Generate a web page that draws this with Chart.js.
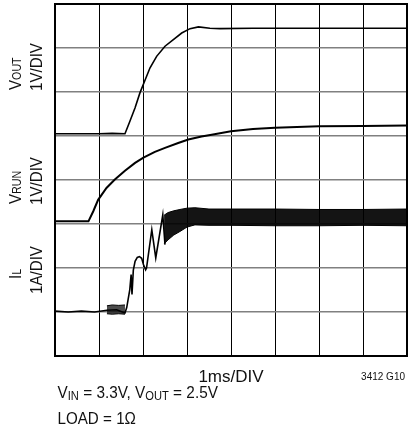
<!DOCTYPE html>
<html>
<head>
<meta charset="utf-8">
<script src="https://cdn.jsdelivr.net/npm/chart.js@4"></script>
<style>
html,body{margin:0;padding:0;background:#fff;}
#wrap{position:relative;width:408px;height:442px;}
</style>
</head>
<body>
<div id="wrap"><canvas id="c" width="408" height="442"></canvas></div>
<script>
// Screen positions in scope divisions (x: 1ms/DIV, y: channel divisions)
const xDivisions = [0, 1, 2, 3, 4, 5, 6, 7, 8];
const yDivisions = [0, 1, 2, 3, 4, 5, 6, 7, 8];

// VOUT trace (1V/DIV)
const voutT = [0, 0.5, 1.0, 1.3, 1.59, 1.70, 1.82, 1.93, 2.05, 2.16, 2.31, 2.50, 2.69, 2.88, 3.07, 3.26, 3.52, 3.75, 4.5, 5.5, 6.5, 7.5, 8];
const voutV = [5.05, 5.05, 5.05, 5.06, 5.05, 5.33, 5.64, 5.98, 6.28, 6.55, 6.81, 7.04, 7.19, 7.34, 7.44, 7.48, 7.45, 7.44, 7.45, 7.45, 7.45, 7.45, 7.45];

// VRUN trace (1V/DIV)
const vrunT = [0, 0.4, 0.76, 0.87, 0.98, 1.17, 1.36, 1.59, 1.82, 2.01, 2.27, 2.50, 2.80, 3.03, 3.33, 3.56, 4.0, 4.5, 5.0, 6.0, 7.0, 8.0];
const vrunV = [3.06, 3.06, 3.06, 3.29, 3.55, 3.82, 4.01, 4.21, 4.39, 4.51, 4.64, 4.73, 4.84, 4.92, 4.99, 5.03, 5.11, 5.16, 5.19, 5.22, 5.23, 5.24];

// IL trace (1A/DIV) - single-valued part
const ilT = [0, 0.3, 0.6, 0.9, 1.18, 1.40, 1.59, 1.63, 1.70, 1.73, 1.75, 1.78, 1.82, 1.87, 1.92, 1.97, 2.01, 2.06, 2.08, 2.20, 2.29, 2.45, 2.50];
const ilV = [1.02, 1.0, 1.02, 1.0, 1.04, 1.05, 0.98, 1.1, 1.51, 1.85, 1.4, 1.95, 2.15, 2.24, 2.26, 2.22, 2.08, 1.96, 2.0, 2.87, 2.23, 3.21, 2.53];

// IL switching-ripple envelope before soft-start
const rippleLowT = [1.18, 1.30, 1.45, 1.59];
const rippleLowHi = [1.14, 1.16, 1.15, 1.16];
const rippleLowLo = [0.96, 0.95, 0.96, 0.95];

// IL switching-ripple envelope in steady state
const rippleT = [2.48, 2.57, 2.70, 2.84, 3.0, 3.18, 3.5, 4.0, 5.0, 6.0, 7.0, 8.0];
const rippleHi = [3.20, 3.26, 3.30, 3.33, 3.36, 3.37, 3.34, 3.34, 3.34, 3.33, 3.33, 3.34];
const rippleLo = [2.55, 2.64, 2.75, 2.83, 2.93, 2.98, 2.97, 2.97, 2.96, 2.96, 2.97, 2.96];

const pts = (xs, ys) => xs.map((x, i) => ({x: x, y: ys[i]}));

const FONT = '"Liberation Sans Narrow", "Liberation Sans", Arial, sans-serif';

function drawSub(ctx, parts, x, y, sx) {
  // parts: [text, size, dy]; sx: horizontal condensing
  ctx.save();
  ctx.translate(x, y);
  ctx.scale(sx || 1, 1);
  let cx = 0;
  for (const p of parts) {
    ctx.font = p[1] + 'px ' + FONT;
    ctx.fillText(p[0], cx, p[2]);
    cx += ctx.measureText(p[0]).width;
  }
  ctx.restore();
}

const decor = {
  id: 'decor',
  afterDraw(chart) {
    const ctx = chart.ctx;
    const a = chart.chartArea;
    ctx.save();
    ctx.strokeStyle = '#000';
    ctx.lineWidth = 2;
    ctx.strokeRect(a.left, a.top, a.right - a.left, a.bottom - a.top);

    ctx.fillStyle = '#111';
    ctx.textBaseline = 'alphabetic';
    ctx.textAlign = 'left';
    // rotated channel labels
    const rot = (x, y, parts) => {
      ctx.save();
      ctx.translate(x, y);
      ctx.rotate(-Math.PI / 2);
      drawSub(ctx, parts, 0, 0, 0.89);
      ctx.restore();
    };
    rot(20.5, 90, [['V', 17, 0], ['OUT', 12, 0]]);
    rot(42, 91, [['1V/DIV', 17, 0]]);
    rot(20.5, 204, [['V', 17, 0], ['RUN', 12, 0]]);
    rot(42, 205, [['1V/DIV', 17, 0]]);
    rot(21, 279, [['I', 17, 0], ['L', 12, 0]]);
    rot(42, 294, [['1A/DIV', 17, 0]]);

    // time base
    ctx.textAlign = 'center';
    ctx.font = '17px ' + FONT;
    ctx.fillText('1ms/DIV', (a.left + a.right) / 2, 382);
    ctx.textAlign = 'right';
    ctx.font = '10px ' + FONT;
    ctx.fillText('3412 G10', 405, 380);

    ctx.textAlign = 'left';
    drawSub(ctx, [['V', 16.5, 0], ['IN', 12, 2.5], [' = 3.3V, V', 16.5, 0], ['OUT', 12, 2.5], [' = 2.5V', 16.5, 0]], 57.5, 397.5, 0.93);
    drawSub(ctx, [['LOAD = 1\u03A9', 16.5, 0]], 57.5, 424, 0.92);
    ctx.restore();
  }
};

new Chart(document.getElementById('c'), {
  type: 'scatter',
  data: {
    datasets: [
      {data: pts(rippleLowT, rippleLowLo), showLine: true, borderColor: '#000', borderWidth: 1, pointRadius: 0, fill: false},
      {data: pts(rippleLowT, rippleLowHi), showLine: true, borderColor: '#000', borderWidth: 1, pointRadius: 0, fill: '-1', backgroundColor: 'rgba(0,0,0,0.7)'},
      {data: pts(rippleT, rippleLo), showLine: true, borderColor: '#000', borderWidth: 1, pointRadius: 0, fill: false},
      {data: pts(rippleT, rippleHi), showLine: true, borderColor: '#000', borderWidth: 1, pointRadius: 0, fill: '-1', backgroundColor: 'rgba(0,0,0,0.92)'},
      {data: pts(ilT, ilV), showLine: true, borderColor: '#000', borderWidth: 1.6, pointRadius: 0, fill: false},
      {data: pts(vrunT, vrunV), showLine: true, borderColor: '#000', borderWidth: 2, pointRadius: 0, fill: false},
      {data: pts(voutT, voutV), showLine: true, borderColor: '#000', borderWidth: 1.6, pointRadius: 0, fill: false}
    ]
  },
  options: {
    responsive: false,
    animation: false,
    events: [],
    layout: {padding: {left: 55, right: 1, top: 4, bottom: 86}},
    plugins: {legend: {display: false}, tooltip: {enabled: false}},
    scales: {
      x: {
        type: 'linear', min: xDivisions[0], max: xDivisions[xDivisions.length - 1],
        ticks: {display: false, stepSize: 1},
        afterBuildTicks: s => { s.ticks = xDivisions.map(v => ({value: v})); },
        grid: {color: '#000', lineWidth: 1, drawTicks: false},
        border: {display: false}
      },
      y: {
        type: 'linear', min: yDivisions[0], max: yDivisions[yDivisions.length - 1],
        ticks: {display: false, stepSize: 1},
        afterBuildTicks: s => { s.ticks = yDivisions.map(v => ({value: v})); },
        grid: {color: '#808080', lineWidth: 1.6, drawTicks: false},
        border: {display: false}
      }
    }
  },
  plugins: [decor]
});
</script>
</body>
</html>
